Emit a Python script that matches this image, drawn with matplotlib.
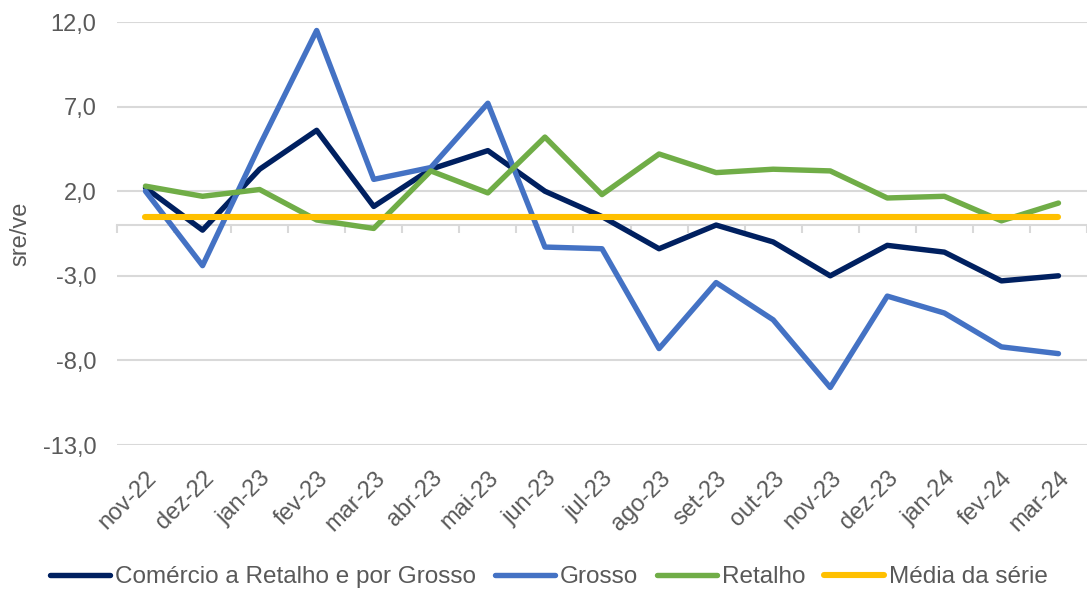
import numpy as np
import matplotlib
matplotlib.use('Agg')
import matplotlib.pyplot as plt
from matplotlib.ticker import FuncFormatter

plt.rcParams['font.family'] = ['Liberation Sans', 'DejaVu Sans']

meses = ['nov-22', 'dez-22', 'jan-23', 'fev-23', 'mar-23', 'abr-23', 'mai-23',
         'jun-23', 'jul-23', 'ago-23', 'set-23', 'out-23', 'nov-23', 'dez-23',
         'jan-24', 'fev-24', 'mar-24']
comercio = [2.2, -0.3, 3.3, 5.6, 1.1, 3.3, 4.4, 2.0, 0.5, -1.4, 0.0, -1.0,
            -3.0, -1.2, -1.6, -3.3, -3.0]
grosso = [2.0, -2.4, 4.7, 11.5, 2.7, 3.4, 7.2, -1.3, -1.4, -7.3, -3.4, -5.6,
          -9.6, -4.2, -5.2, -7.2, -7.6]
retalho = [2.3, 1.7, 2.1, 0.3, -0.2, 3.2, 1.9, 5.2, 1.8, 4.2, 3.1, 3.3,
           3.2, 1.6, 1.7, 0.25, 1.3]
media = [0.47] * len(meses)
yticks = [-13, -8, -3, 2, 7, 12]

cor_texto = '#595959'
cor_grelha = '#d9d9d9'
fs = 17

fig = plt.figure(figsize=(10.87, 5.92), dpi=100)
ax = fig.add_axes([0.1076, 0.2483, 0.8924, 0.7145])
x = np.arange(len(meses))

ax.plot(x, comercio, color='#002060', lw=3.9, label='Comércio a Retalho e por Grosso',
        solid_joinstyle='round', solid_capstyle='round', zorder=3)
ax.plot(x, grosso, color='#4472C4', lw=3.9, label='Grosso',
        solid_joinstyle='round', solid_capstyle='round', zorder=3)
ax.plot(x, retalho, color='#70AD47', lw=3.9, label='Retalho',
        solid_joinstyle='round', solid_capstyle='round', zorder=3)
ax.plot(x, media, color='#FFC000', lw=4.4, label='Média da série',
        solid_capstyle='round', zorder=3)

ax.set_xlim(-0.5, len(meses) - 0.5)
ax.set_ylim(-13, 12)
ax.set_yticks(yticks)
ax.yaxis.set_major_formatter(FuncFormatter(lambda v, p: f'{v:.1f}'.replace('.', ',')))
ax.yaxis.grid(True, color=cor_grelha, lw=1.5)
ax.set_axisbelow(True)
for s in ax.spines.values():
    s.set_visible(False)

ax.set_xticks(x)
ax.set_xticklabels(meses, rotation=45, ha='right', rotation_mode='anchor')
ax.tick_params(axis='x', length=0, pad=16, labelsize=fs, labelcolor=cor_texto)
ax.tick_params(axis='y', length=0, pad=15, labelsize=fs, labelcolor=cor_texto)
ax.set_ylabel('sre/ve', fontsize=fs, color=cor_texto, labelpad=8)

# eixo horizontal no zero com marcas entre categorias
sec = ax.secondary_xaxis(0, transform=ax.transData)
sec.set_xticks(np.arange(len(meses) + 1) - 0.5)
sec.set_xticklabels([])
sec.tick_params(axis='x', direction='out', length=6, width=1.5, color=cor_grelha)
sec.spines['bottom'].set_color(cor_grelha)
sec.spines['bottom'].set_linewidth(1.5)

fig.legend(loc='center', bbox_to_anchor=(0.505, 0.025), ncol=4, frameon=False,
           fontsize=17.5, labelcolor=cor_texto, handlelength=2.45, handletextpad=0.2,
           columnspacing=0.8)

plt.savefig('out.png', dpi=100)
plt.close()
